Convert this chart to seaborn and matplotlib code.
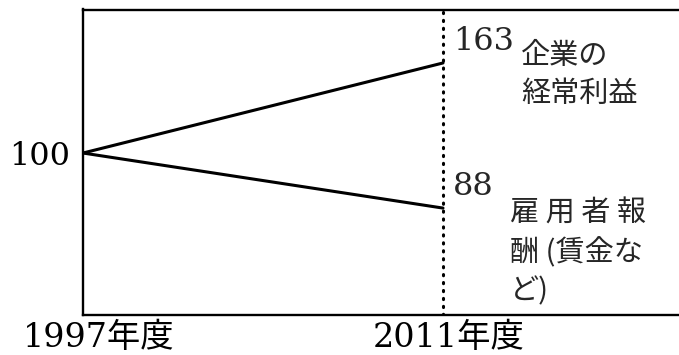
import numpy as np
import pandas as pd
import matplotlib
matplotlib.use("Agg")
import matplotlib.pyplot as plt
import seaborn as sns
from matplotlib.transforms import ScaledTranslation

# Chart values
years = [1997, 2011]
profit_index = [100, 163]
wage_index = [100, 88]
series_labels = ["企業の\n経常利益", "雇 用 者 報\n酬 (賃金な\nど)"]
x_tick_labels = ["1997年度", "2011年度"]

df = pd.DataFrame({
    "year": years * 2,
    "index": profit_index + wage_index,
    "series": ["profit"] * 2 + ["wage"] * 2,
})

sns.set_theme(style="white")
plt.rcParams["font.family"] = ["DejaVu Serif", "Noto Sans CJK JP"]

fig = plt.figure(figsize=(6.79, 3.55), dpi=100)
ax = fig.add_axes([83 / 679, 1 - 315 / 355, (695 - 83) / 679, (315 - 9.5) / 355])

sns.lineplot(data=df, x="year", y="index", hue="series",
             palette=["black", "black"], linewidth=2.2, legend=False, ax=ax)

# schematic scale: the chart stretches the part below 100
k = 3.21


def fwd(y):
    y = np.asarray(y, dtype=float)
    return np.where(y >= 100, y - 100, (y - 100) * k)


def inv(t):
    t = np.asarray(t, dtype=float)
    return np.where(t >= 0, t + 100, t / k + 100)


ax.set_yscale("function", functions=(fwd, inv))
ax.set_ylim(64.7, 200.4)
ax.set_xlim(1997, 1997 + (695 - 83) / 25.714)

ax.axvline(years[1], color="black", linestyle=(0, (0.4, 2.2)), linewidth=2.2,
           dash_capstyle="round")

for side in ["left", "top", "bottom"]:
    ax.spines[side].set_color("black")
    ax.spines[side].set_linewidth(1.7)
ax.spines["right"].set_visible(False)

ax.set_yticks([100])
ax.set_yticklabels(["100"])
ax.set_xticks(years)
ax.set_xticklabels(x_tick_labels)
ax.tick_params(axis="y", length=0, pad=9, labelsize=23, colors="black")
ax.tick_params(axis="x", length=0, pad=5, labelsize=24, colors="black")
ax.set_xlabel("")
ax.set_ylabel("")

for lbl, dx in zip(ax.get_xticklabels(), [16, 6]):
    lbl.set_transform(lbl.get_transform() + ScaledTranslation(dx / 100, 0, fig.dpi_scale_trans))

# end values and series names
ends = [profit_index[-1], wage_index[-1]]
value_offsets = [(10, 21), (10, 22)]
name_offsets = [(78, 22), (67, 9)]
for v, name, voff, noff in zip(ends, series_labels, value_offsets, name_offsets):
    ax.annotate(str(v), xy=(years[1], v), xytext=voff, textcoords="offset pixels",
                ha="left", va="center", fontsize=23, family="DejaVu Serif")
    ax.annotate(name, xy=(years[1], v), xytext=noff, textcoords="offset pixels",
                ha="left", va="top", fontsize=21, linespacing=1.35,
                family=["Noto Sans CJK JP", "DejaVu Sans"])

fig.savefig("out.png", dpi=100)
